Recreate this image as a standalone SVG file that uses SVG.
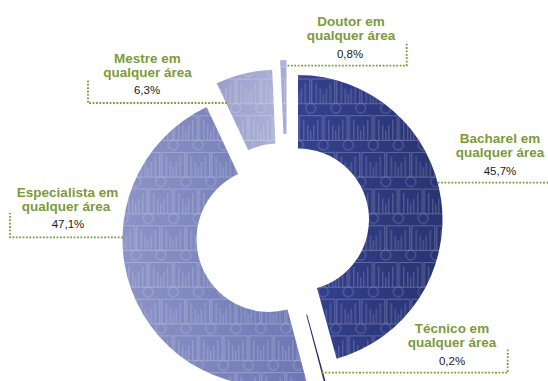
<svg xmlns="http://www.w3.org/2000/svg" xmlns:xlink="http://www.w3.org/1999/xlink" width="548" height="381" viewBox="0 0 548 381">
<defs>
<style>
.lbl{font-family:"Liberation Sans",Arial,sans-serif;font-weight:bold;font-size:13.5px;fill:#7d9a3a;text-anchor:middle}
.pct{font-family:"Liberation Sans",Arial,sans-serif;font-size:11.5px;fill:#1a1a1a;text-anchor:middle}
.dot{fill:none;stroke:#7d9a3a;stroke-width:1.8;stroke-dasharray:1.8 1.6}
.pat{fill:url(#people)}
.fig{fill:none;stroke:#ffffff;stroke-opacity:0.3;stroke-width:0.8}
</style>
<g id="fig" class="fig">
<circle cx="0" cy="0" r="5"/>
<rect x="-11.5" y="7.5" width="23" height="24.5"/>
<path d="M-7,11.5V32M7,11.5V32M-3,17V32M3,17V32M0,22V32"/>
</g>
<pattern id="people" patternUnits="userSpaceOnUse" width="25" height="73.4" patternTransform="translate(-1.7,28.9)">
<use xlink:href="#fig" href="#fig" x="12.5" y="6"/>
<use xlink:href="#fig" href="#fig" x="0" y="42.7"/>
<use xlink:href="#fig" href="#fig" x="25" y="42.7"/>
<use xlink:href="#fig" href="#fig" x="0" y="-30.7"/>
<use xlink:href="#fig" href="#fig" x="25" y="-30.7"/>
<use xlink:href="#fig" href="#fig" x="12.5" y="79.4"/>
</pattern>
<linearGradient id="gB" gradientUnits="userSpaceOnUse" x1="298" y1="0" x2="443" y2="0">
<stop offset="0" stop-color="#34418f"/><stop offset="1" stop-color="#283371"/>
</linearGradient>
<linearGradient id="gE" gradientUnits="userSpaceOnUse" x1="122" y1="0" x2="310" y2="0">
<stop offset="0" stop-color="#8c93c7"/><stop offset="1" stop-color="#6c76b3"/>
</linearGradient>
<linearGradient id="gM" gradientUnits="userSpaceOnUse" x1="216" y1="0" x2="276" y2="0">
<stop offset="0" stop-color="#9aa0cb"/><stop offset="1" stop-color="#aab0d6"/>
</linearGradient>
</defs>

<g id="bacharel">
<path fill="url(#gB)" d="M298,75 A144.5,144.5 0 0 1 336.62,358.74 L316.97,287.92 A71,71 0 0 0 298,148.5 Z"/>
<path class="pat" d="M298,75 A144.5,144.5 0 0 1 336.62,358.74 L316.97,287.92 A71,71 0 0 0 298,148.5 Z"/>
<text class="lbl" x="500" y="143.3">Bacharel em</text>
<text class="lbl" x="500" y="157.3">qualquer área</text>
<text class="pct" x="500" y="175">45,7%</text>
</g>

<g id="tecnico">
<path fill="#2a2f6e" d="M326.77,385.76 A146,146 0 0 1 325.05,386.22 L306.27,314.64 A72,72 0 0 0 307.12,314.42 Z"/>
<text class="lbl" x="452" y="333.3">Técnico em</text>
<text class="lbl" x="452" y="347">qualquer área</text>
<text class="pct" x="452" y="365">0,2%</text>
</g>

<g id="especialista">
<path fill="url(#gE)" d="M306.42,381.14 A146.5,146.5 0 0 1 206.62,106.94 L238.13,173.9 A72.5,72.5 0 0 0 287.52,309.59 Z"/>
<path class="pat" d="M306.42,381.14 A146.5,146.5 0 0 1 206.62,106.94 L238.13,173.9 A72.5,72.5 0 0 0 287.52,309.59 Z"/>
<text class="lbl" x="67.5" y="197">Especialista em</text>
<text class="lbl" x="66" y="211">qualquer área</text>
<text class="pct" x="68" y="228">47,1%</text>
</g>

<g id="mestre">
<path fill="url(#gM)" d="M216.76,83.3 A145,145 0 0 1 272.18,69.64 L275.4,143.57 A71,71 0 0 0 248.27,150.26 Z"/>
<path class="pat" d="M216.76,83.3 A145,145 0 0 1 272.18,69.64 L275.4,143.57 A71,71 0 0 0 248.27,150.26 Z"/>
<text class="lbl" x="147.5" y="62.7">Mestre em</text>
<text class="lbl" x="147.5" y="76.5">qualquer área</text>
<text class="pct" x="147" y="94.3">6,3%</text>
</g>

<g id="doutor">
<path fill="#a6acd4" d="M280.18,60.14 A145,145 0 0 1 286.5,60 L286.5,134 A71,71 0 0 0 283.4,134.07 Z"/>
<path class="pat" d="M280.18,60.14 A145,145 0 0 1 286.5,60 L286.5,134 A71,71 0 0 0 283.4,134.07 Z"/>
<text class="lbl" x="351" y="26">Doutor em</text>
<text class="lbl" x="351" y="40">qualquer área</text>
<text class="pct" x="350" y="57.5">0,8%</text>
</g>

<g id="connectors">
<path class="dot" d="M437.7,182.7 H548"/>
<path class="dot" d="M321.7,372.7 H507.7 V348"/>
<path class="dot" d="M123,237.3 H10 V213"/>
<path class="dot" d="M227,103 H88 V80"/>
<path class="dot" d="M287.5,65.7 H406.7 V41.7"/>
</g>
</svg>
